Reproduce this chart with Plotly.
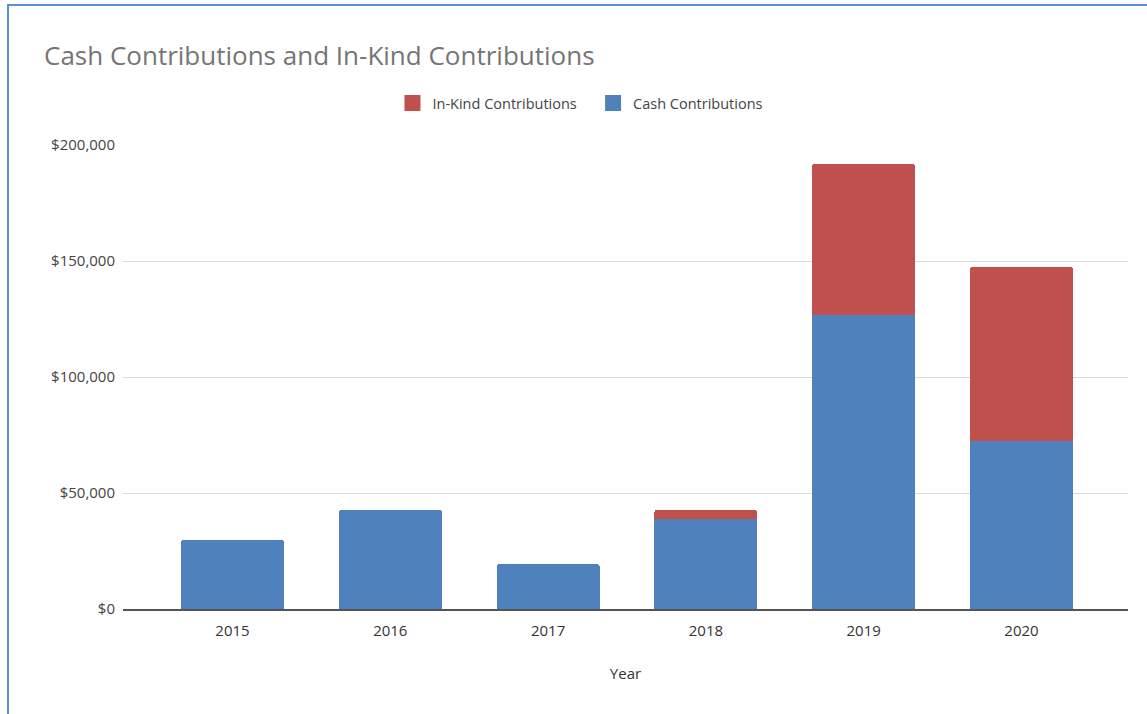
import plotly.graph_objects as go

years = ["2015", "2016", "2017", "2018", "2019", "2020"]
cash = [29800, 42700, 19400, 38800, 126700, 72400]
in_kind = [0, 0, 0, 3900, 65100, 75000]
y_ticks = [0, 50000, 100000, 150000, 200000]
y_tick_labels = ["$0", "$50,000", "$100,000", "$150,000", "$200,000"]

BLUE = "#4f81bd"
RED = "#c0504d"
FONT = "Open Sans"

fig = go.Figure()
fig.add_trace(go.Bar(x=years, y=cash, name="Cash Contributions", showlegend=False,
                     marker=dict(color=BLUE, line=dict(width=0))))
fig.add_trace(go.Bar(x=years, y=in_kind, name="In-Kind Contributions", showlegend=False,
                     marker=dict(color=RED, line=dict(width=0))))
# legend entries with larger square swatches
fig.add_trace(go.Scatter(x=[None], y=[None], mode="markers", name="In-Kind Contributions   ",
                         marker=dict(symbol="square", size=16, color=RED), legendrank=1))
fig.add_trace(go.Scatter(x=[None], y=[None], mode="markers", name="Cash Contributions",
                         marker=dict(symbol="square", size=16, color=BLUE), legendrank=2))

W, H = 1147, 714
L, R, T, B = 123, 1128, 145, 609
cat_w = 157.8
x0 = -0.5 - ((232.5 - cat_w / 2) - L) / cat_w
x1 = 5.5 + (R - (1021.5 + cat_w / 2)) / cat_w

fig.update_layout(
    width=W, height=H,
    margin=dict(l=L, r=W - R, t=T, b=H - B, pad=0),
    paper_bgcolor="white", plot_bgcolor="white",
    barmode="stack", bargap=0.347, barcornerradius=3,
    font=dict(family=FONT, color="#444444", size=14),
    title=dict(text="Cash Contributions and In-Kind Contributions",
               x=44 / W, xanchor="left", y=1 - 56 / H, yanchor="middle",
               font=dict(family=FONT, size=26, color="#757575")),
    legend=dict(orientation="h", x=(0.5 * (396 + 775) - L) / (R - L) - 0.005, xanchor="center",
                y=(B - 103) / (B - T), yref="paper", yanchor="middle",
                font=dict(family=FONT, size=14.5, color="#444444"),
                itemsizing="trace", itemwidth=30, traceorder="normal"),
    showlegend=True,
    xaxis=dict(type="category", range=[x0, x1], showgrid=False,
               showline=True, linecolor="#555555", linewidth=1.5,
               ticks="", tickfont=dict(family=FONT, size=15, color="#333333"),
               ticklabelstandoff=7,
               title=dict(text="Year", standoff=30,
                          font=dict(family=FONT, size=15, color="#333333"))),
    yaxis=dict(range=[0, 200000], tickvals=y_ticks, ticktext=y_tick_labels,
               showgrid=True, gridcolor="#d9d9d9", gridwidth=1,
               zeroline=False, showline=False, ticks="",
               ticklabelstandoff=7,
               tickfont=dict(family=FONT, size=15, color="#444444")),
)

# spreadsheet frame (blue border at top and left)
fig.add_shape(type="line", xref="paper", yref="paper",
              x0=(7 - L) / (R - L), x1=(W - L) / (R - L),
              y0=(B - 5) / (B - T), y1=(B - 5) / (B - T),
              line=dict(color="#5b8fd6", width=2))
fig.add_shape(type="line", xref="paper", yref="paper",
              x0=(8 - L) / (R - L), x1=(8 - L) / (R - L),
              y0=(B - 5) / (B - T), y1=(B - H) / (B - T),
              line=dict(color="#5b8fd6", width=2))

fig.write_html("out.html")
